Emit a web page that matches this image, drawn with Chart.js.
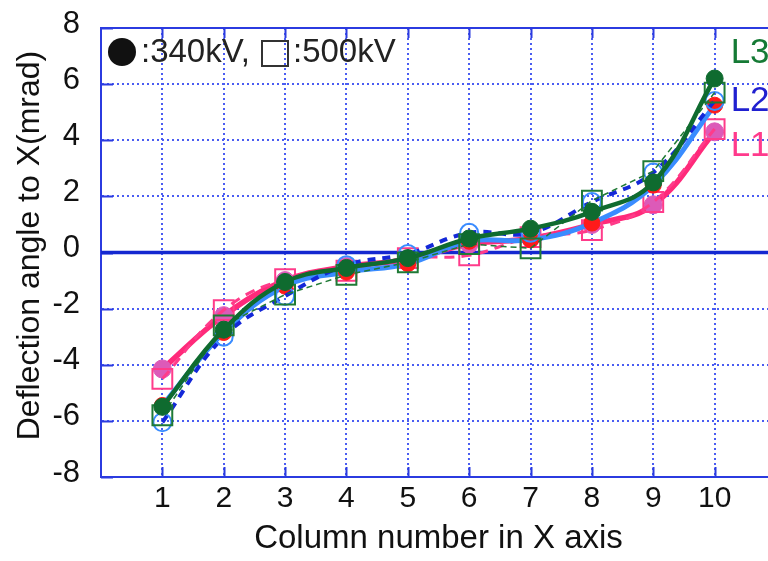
<!DOCTYPE html>
<html>
<head>
<meta charset="utf-8">
<script src="https://cdn.jsdelivr.net/npm/chart.js@4.4.1/dist/chart.umd.min.js"></script>
<style>
  html, body { margin: 0; padding: 0; background: #fff; overflow: hidden; }
  #wrap { position: relative; width: 768px; height: 561px; overflow: hidden; }
  canvas { display: block; }
</style>
</head>
<body>
<div id="wrap"><canvas id="c" width="792" height="561"></canvas></div>
<script>
// Column numbers along X and the y tick values (mrad)
const columns = [1, 2, 3, 4, 5, 6, 7, 8, 9, 10];
const xTickLabels = ['1', '2', '3', '4', '5', '6', '7', '8', '9', '10'];
const yTickValues = [-8, -6, -4, -2, 0, 2, 4, 6, 8];

// Deflection angle to X (mrad) per line, at 340 kV and 500 kV
const l1_340kV = [-4.15, -2.25, -1.0, -0.5, -0.25, 0.3, 0.5, 1.0, 1.7, 4.3];
const l1_500kV = [-4.5, -2.05, -0.95, -0.65, -0.2, -0.1, 0.55, 0.8, 1.8, 4.4];
const l2_340kV = [-5.45, -2.85, -1.2, -0.7, -0.4, 0.4, 0.45, 1.05, 2.4, 5.25];
const l2_500kV = [-6.05, -3.0, -1.55, -0.45, -0.05, 0.7, 0.7, 1.8, 2.85, 5.4];
const l3_340kV = [-5.5, -2.75, -1.05, -0.55, -0.2, 0.5, 0.85, 1.45, 2.5, 6.2];
const l3_500kV = [-5.8, -2.6, -1.5, -0.8, -0.35, 0.3, 0.15, 1.85, 2.9, 5.7];

const toPoints = arr => columns.map((c, i) => ({ x: c, y: arr[i] }));

const AXIS_BLUE = '#2b3be0';
const GRID_BLUE = '#4a5cf2';
const FONT = '"Liberation Sans", Arial, sans-serif';
const Y_TITLE = 'Deflection angle to X(mrad)';

// Frame: top border, inner tick marks, zero line, y title, voltage key and line names
const framePlugin = {
  id: 'frame',
  beforeDatasetsDraw(chart) {
    const { ctx, chartArea: a, scales: { x, y } } = chart;
    ctx.save();
    ctx.strokeStyle = AXIS_BLUE;
    ctx.lineWidth = 2;
    ctx.beginPath();
    ctx.moveTo(a.left, a.top);
    ctx.lineTo(a.right + 2, a.top);
    ctx.stroke();
    // inner tick marks
    ctx.beginPath();
    columns.forEach(c => {
      const px = Math.round(x.getPixelForValue(c)) + 0.5;
      ctx.moveTo(px, a.bottom);
      ctx.lineTo(px, a.bottom - 10);
      ctx.moveTo(px, a.top);
      ctx.lineTo(px, a.top + 10);
    });
    yTickValues.forEach(v => {
      const py = Math.round(y.getPixelForValue(v)) + 0.5;
      ctx.moveTo(a.left, py);
      ctx.lineTo(a.left + 12, py);
    });
    ctx.stroke();
    // zero line
    ctx.strokeStyle = '#1428d0';
    ctx.lineWidth = 3.5;
    ctx.beginPath();
    const y0 = y.getPixelForValue(0);
    ctx.moveTo(a.left, y0);
    ctx.lineTo(a.right + 2, y0);
    ctx.stroke();
    // y axis title
    ctx.translate(30, (a.top + a.bottom) / 2 - 7);
    ctx.rotate(-Math.PI / 2);
    ctx.font = '32px ' + FONT;
    ctx.fillStyle = '#111';
    ctx.textAlign = 'center';
    ctx.textBaseline = 'middle';
    ctx.fillText(Y_TITLE, 0, 0);
    ctx.restore();
  },
  afterDatasetsDraw(chart) {
    const { ctx, chartArea: a, scales: { x, y } } = chart;
    ctx.save();
    // voltage key
    ctx.fillStyle = '#111';
    ctx.beginPath();
    ctx.arc(a.left + 21, a.top + 24, 14, 0, Math.PI * 2);
    ctx.fill();
    ctx.font = '33px ' + FONT;
    ctx.textBaseline = 'middle';
    ctx.fillStyle = '#222';
    ctx.fillText(':340kV,', a.left + 40, a.top + 25);
    ctx.strokeStyle = '#333';
    ctx.lineWidth = 2;
    ctx.strokeRect(a.left + 161, a.top + 13, 26, 25);
    ctx.fillText(':500kV', a.left + 192, a.top + 25);
    // line names at the right end
    ctx.font = '35px ' + FONT;
    const lx = x.getPixelForValue(10) + 16;
    [['L3', 7.1, '#157a35'], ['L2', 5.4, '#2020d0'], ['L1', 3.8, '#ff3a8c']].forEach(([t, v, col]) => {
      ctx.fillStyle = col;
      ctx.fillText(t, lx, y.getPixelForValue(v));
    });
    ctx.restore();
  }
};

new Chart(document.getElementById('c'), {
  type: 'line',
  data: {
    datasets: [
      { label: 'L3 340kV', data: toPoints(l3_340kV), borderColor: '#0f6b2f', borderWidth: 4.5, tension: 0.4,
        pointStyle: 'circle', pointRadius: 8.5, pointBackgroundColor: '#0f6b2f', pointBorderColor: '#0f6b2f', pointBorderWidth: 1 },
      { label: 'L3 500kV', data: toPoints(l3_500kV), borderColor: '#1f7a35', borderWidth: 1.5, borderDash: [6, 4], tension: 0,
        pointStyle: 'rect', pointRadius: 14, pointBackgroundColor: 'rgba(0,0,0,0)', pointBorderColor: '#1f7a35', pointBorderWidth: 2 },
      { label: 'L2 500kV', data: toPoints(l2_500kV), borderColor: '#1428d8', borderWidth: 4, borderDash: [8, 7], tension: 0.4,
        pointStyle: 'circle', pointRadius: 9, pointBackgroundColor: 'rgba(0,0,0,0)', pointBorderColor: '#3a8cff', pointBorderWidth: 2 },
      { label: 'L2 340kV', data: toPoints(l2_340kV), borderColor: '#3a8cff', borderWidth: 5, tension: 0.4,
        pointStyle: 'circle', pointRadius: 8, pointBackgroundColor: '#ff1a1a', pointBorderColor: '#ff1a1a', pointBorderWidth: 1 },
      { label: 'L1 500kV', data: toPoints(l1_500kV), borderColor: '#ff3b8a', borderWidth: 3, borderDash: [10, 7], tension: 0.4,
        pointStyle: 'rect', pointRadius: 14, pointBackgroundColor: 'rgba(0,0,0,0)', pointBorderColor: '#ff3b8a', pointBorderWidth: 2 },
      { label: 'L1 340kV', data: toPoints(l1_340kV), borderColor: '#ff2a7a', borderWidth: 5.5, tension: 0.4,
        pointStyle: 'circle', pointRadius: 9, pointBackgroundColor: '#dc5ab8', pointBorderColor: '#dc5ab8', pointBorderWidth: 1 }
    ]
  },
  options: {
    responsive: false,
    animation: false,
    events: [],
    layout: { padding: { top: 28, right: 2, left: 0, bottom: 0 } },
    plugins: { legend: { display: false }, tooltip: { enabled: false } },
    scales: {
      x: {
        type: 'linear', min: 0, max: 11,
        afterFit: s => { s.height = 84; s.paddingLeft = 0; s.paddingRight = 0; },
        afterBuildTicks: s => { s.ticks = [0].concat(columns, [11]).map(v => ({ value: v })); },
        ticks: {
          padding: 4, color: '#111', font: { family: FONT, size: 30 },
          callback: v => { const i = columns.indexOf(v); return i >= 0 ? xTickLabels[i] : ''; }
        },
        grid: {
          drawTicks: false, lineWidth: 2,
          color: c => (c.tick && (c.tick.value === 0 || c.tick.value === 11)) ? 'rgba(0,0,0,0)' : GRID_BLUE
        },
        border: { display: true, color: AXIS_BLUE, width: 2, dash: [2, 3] },
        title: { display: true, text: 'Column number in X axis', color: '#111',
                 font: { family: FONT, size: 33 }, padding: { top: 0, bottom: 2 } }
      },
      y: {
        type: 'linear', min: -8, max: 8,
        afterFit: s => { s.width = 101; s.paddingTop = 0; s.paddingBottom = 0; },
        afterBuildTicks: s => { s.ticks = yTickValues.map(v => ({ value: v })); },
        ticks: { padding: 21, labelOffset: -4, color: '#111', font: { family: FONT, size: 31 } },
        grid: {
          drawTicks: false, lineWidth: 2,
          color: c => (c.tick && (Math.abs(c.tick.value) === 8 || c.tick.value === 0)) ? 'rgba(0,0,0,0)' : GRID_BLUE
        },
        border: { display: true, color: AXIS_BLUE, width: 2, dash: [2, 3] },
        title: { display: false }
      }
    }
  },
  plugins: [framePlugin]
});
</script>
</body>
</html>
